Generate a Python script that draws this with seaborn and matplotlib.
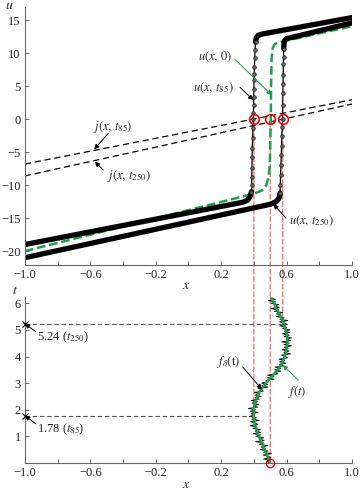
import matplotlib
matplotlib.use('Agg')
import matplotlib.pyplot as plt
from matplotlib.patches import ConnectionPatch
import seaborn as sns

# ---- top panel: solution profiles u(x, t) ----
u85_left_x = [-1.0, 0.33, 0.36, 0.375, 0.385]
u85_left_u = [-19.0, -12.6, -12.3, -11.8, -11.0]
u85_shock_x = [0.385, 0.386, 0.387, 0.388, 0.389, 0.390, 0.392, 0.394, 0.396, 0.397,
               0.398, 0.399, 0.400, 0.401, 0.402, 0.403, 0.405, 0.407, 0.410]
u85_shock_u = [-11.0, -10.0, -8.8, -7.4, -5.8, -4.4, -2.9, -1.4, 0.0, 1.0,
               2.1, 3.4, 4.6, 5.9, 6.9, 7.9, 9.2, 10.5, 11.7]
u85_right_x = [0.410, 0.414, 0.425, 0.45, 1.0]
u85_right_u = [11.7, 12.3, 12.7, 12.9, 15.4]

u250_left_x = [-1.0, 0.50, 0.535, 0.553, 0.560]
u250_left_u = [-21.0, -12.9, -12.5, -12.0, -11.2]
u250_shock_x = [0.560, 0.561, 0.563, 0.565, 0.567, 0.569, 0.571, 0.573, 0.575, 0.576,
                0.577, 0.578, 0.579, 0.580, 0.581, 0.582]
u250_shock_u = [-11.2, -10.0, -8.5, -7.0, -5.5, -4.0, -2.5, -1.2, 0.0, 2.1,
                3.9, 5.4, 6.7, 8.4, 9.4, 10.7]
u250_right_x = [0.582, 0.585, 0.590, 0.60, 0.625, 1.0]
u250_right_u = [10.7, 11.7, 12.0, 12.2, 12.35, 14.6]

u0_x = [-1.0, 0.40, 0.45, 0.475, 0.49, 0.497, 0.50, 0.503, 0.505, 0.508, 0.513, 0.525, 0.545, 1.0]
u0_u = [-20.0, -11.3, -10.8, -10.0, -8.8, -7.0, -4.0, 0.0, 5.0, 9.0, 10.6, 11.3, 11.6, 14.1]

j_x = [-1.0, 1.0]
j85_u = [-6.8, 2.95]
j250_u = [-8.6, 2.3]

shock_pos = [0.40, 0.50, 0.576]
shock_time = [1.78, 0.0, 5.24]

# ---- bottom panel: shock position f(t) and noisy f_delta(t) ----
f_t = [0.0, 0.25, 0.5, 0.75, 1.0, 1.25, 1.5, 1.75, 2.0, 2.25, 2.5, 2.75, 3.0, 3.25,
       3.5, 3.75, 4.0, 4.25, 4.5, 4.75, 5.0, 5.25, 5.5, 5.75, 6.0, 6.2]
f_x = [0.500, 0.482, 0.465, 0.449, 0.430, 0.415, 0.403, 0.398, 0.398, 0.406, 0.420, 0.442,
       0.473, 0.510, 0.545, 0.572, 0.588, 0.599, 0.604, 0.603, 0.595, 0.582, 0.563, 0.541,
       0.523, 0.510]

fd_t = [0.00, 0.05, 0.10, 0.15, 0.20, 0.25, 0.30, 0.35, 0.40, 0.45,
        0.50, 0.55, 0.60, 0.65, 0.70, 0.75, 0.80, 0.85, 0.90, 0.95,
        1.00, 1.05, 1.10, 1.15, 1.20, 1.25, 1.30, 1.35, 1.40, 1.45,
        1.50, 1.55, 1.60, 1.65, 1.70, 1.75, 1.80, 1.85, 1.90, 1.95,
        2.00, 2.05, 2.10, 2.15, 2.20, 2.25, 2.30, 2.35, 2.40, 2.45,
        2.50, 2.55, 2.60, 2.65, 2.70, 2.75, 2.80, 2.85, 2.90, 2.95,
        3.00, 3.05, 3.10, 3.15, 3.20, 3.25, 3.30, 3.35, 3.40, 3.45,
        3.50, 3.55, 3.60, 3.65, 3.70, 3.75, 3.80, 3.85, 3.90, 3.95,
        4.00, 4.05, 4.10, 4.15, 4.20, 4.25, 4.30, 4.35, 4.40, 4.45,
        4.50, 4.55, 4.60, 4.65, 4.70, 4.75, 4.80, 4.85, 4.90, 4.95,
        5.00, 5.05, 5.10, 5.15, 5.20, 5.25, 5.30, 5.35, 5.40, 5.45,
        5.50, 5.55, 5.60, 5.65, 5.70, 5.75, 5.80, 5.85, 5.90, 5.95,
        6.00, 6.05, 6.10, 6.15, 6.20]
fd_x = [0.500, 0.478, 0.502, 0.459, 0.505, 0.487, 0.456, 0.507, 0.459, 0.486,
        0.439, 0.470, 0.444, 0.484, 0.432, 0.461, 0.411, 0.463, 0.431, 0.460,
        0.412, 0.441, 0.396, 0.441, 0.408, 0.440, 0.394, 0.420, 0.377, 0.425,
        0.408, 0.380, 0.432, 0.387, 0.416, 0.372, 0.405, 0.382, 0.425, 0.378,
        0.410, 0.366, 0.423, 0.397, 0.430, 0.388, 0.422, 0.383, 0.433, 0.407,
        0.445, 0.406, 0.438, 0.403, 0.457, 0.447, 0.425, 0.486, 0.448, 0.485,
        0.447, 0.489, 0.473, 0.524, 0.483, 0.522, 0.483, 0.546, 0.525, 0.564,
        0.527, 0.565, 0.529, 0.582, 0.557, 0.597, 0.558, 0.590, 0.553, 0.606,
        0.593, 0.569, 0.625, 0.583, 0.615, 0.573, 0.608, 0.586, 0.630, 0.583,
        0.616, 0.570, 0.626, 0.598, 0.630, 0.585, 0.616, 0.573, 0.619, 0.587,
        0.620, 0.575, 0.600, 0.558, 0.605, 0.587, 0.556, 0.607, 0.559, 0.585,
        0.537, 0.566, 0.538, 0.577, 0.525, 0.553, 0.503, 0.556, 0.524, 0.553,
        0.505, 0.534, 0.488, 0.533, 0.500]

x_ticks = [-1.0, -0.8, -0.6, -0.4, -0.2, 0.0, 0.2, 0.4, 0.6, 0.8, 1.0]
x_ticklabels = ['\u22121.0', '', '\u22120.6', '', '\u22120.2', '', '0.2', '', '0.6', '', '1.0']
u_ticks = [-20, -15, -10, -5, 0, 5, 10, 15]
t_ticks = [1, 2, 3, 4, 5, 6]

sns.set_style('ticks')
plt.rcParams['font.family'] = ['Liberation Serif', 'DejaVu Serif']
plt.rcParams['mathtext.fontset'] = 'stix'
plt.rcParams['font.size'] = 9

green = '#1f9e4a'
red = '#f06b6b'

fig = plt.figure(figsize=(3.6, 4.92), dpi=100)
ax1 = fig.add_axes([0.069, 0.4614, 0.909, 0.5244])
ax2 = fig.add_axes([0.069, 0.059, 0.909, 0.337])
for ax in (ax1, ax2):
    ax.set_facecolor('none')

# top panel curves
sns.lineplot(x=j_x, y=j85_u, ax=ax1, color='k', lw=0.9, ls=(0, (5, 3)))
sns.lineplot(x=j_x, y=j250_u, ax=ax1, color='k', lw=0.9, ls=(0, (5, 3)))
sns.lineplot(x=u0_x, y=u0_u, ax=ax1, sort=False, estimator=None, color=green, lw=1.8,
             ls=(0, (3.5, 1.5)))
for lx, lu, sx, su, rx, ru in [(u85_left_x, u85_left_u, u85_shock_x, u85_shock_u, u85_right_x, u85_right_u),
                               (u250_left_x, u250_left_u, u250_shock_x, u250_shock_u, u250_right_x, u250_right_u)]:
    sns.lineplot(x=lx, y=lu, ax=ax1, sort=False, estimator=None, color='k', lw=3.8,
                 solid_capstyle='round')
    sns.lineplot(x=rx, y=ru, ax=ax1, sort=False, estimator=None, color='k', lw=3.8,
                 solid_capstyle='round')
    sns.lineplot(x=sx, y=su, ax=ax1, sort=False, estimator=None, color='k', lw=0.9,
                 marker='o', ms=2.6, mfc='#666666', mec='#222222', mew=0.5)
sns.lineplot(x=shock_pos, y=[0, 0, 0], ax=ax1, sort=False, estimator=None, ls='',
             marker='o', ms=7, mfc='none', mec='red', mew=1.2, zorder=5)

ax1.set_xlim(-1.0, 1.0)
ax1.set_ylim(-22.1, 17.0)
ax1.set_xticks(x_ticks, x_ticklabels)
ax1.set_yticks(u_ticks, ['\u221220', '\u221215', '\u221210', '\u22125', '0', '5', '10', '15'])

arrow_k = dict(arrowstyle='-|>', color='k', lw=0.7, shrinkA=0, shrinkB=0, mutation_scale=7)
arrow_g = dict(arrowstyle='-|>', color=green, lw=0.7, shrinkA=0, shrinkB=0, mutation_scale=7)

ax1.text(0.162, 9.5, r'$u(x,\,0)$', ha='center', va='center')
ax1.annotate('', xy=(0.509, 3.66), xytext=(0.284, 9.07), arrowprops=arrow_g)
ax1.text(0.150, 4.8, r'$u(x,\,t_{85})$', ha='center', va='center')
ax1.annotate('', xy=(0.396, 2.9), xytext=(0.315, 4.83), arrowprops=arrow_k)
ax1.text(-0.465, -1.2, r'$j(x,\,t_{85})$', ha='center', va='center')
ax1.annotate('', xy=(-0.576, -4.57), xytext=(-0.49, -2.15), arrowprops=arrow_k)
ax1.text(-0.364, -8.6, r'$j(x,\,t_{250})$', ha='center', va='center')
ax1.annotate('', xy=(-0.572, -6.45), xytext=(-0.521, -7.7), arrowprops=arrow_k)
ax1.text(0.755, -15.4, r'$u(x,\,t_{250})$', ha='center', va='center')
ax1.annotate('', xy=(0.519, -12.87), xytext=(0.596, -15.0), arrowprops=arrow_k)

ax1.text(-0.046, 1.006, r'$u$', transform=ax1.transAxes, ha='center', va='center', fontsize=10)
ax1.text(0.494, -0.079, r'$x$', transform=ax1.transAxes, ha='center', va='center', fontsize=10)

# bottom panel curves
sns.lineplot(x=[-1.0, 0.576], y=[5.24, 5.24], ax=ax2, color='#555555', lw=0.8, ls=(0, (4, 2.5)))
sns.lineplot(x=[-1.0, 0.395], y=[1.78, 1.78], ax=ax2, color='#555555', lw=0.8, ls=(0, (4, 2.5)))
sns.lineplot(x=fd_x, y=fd_t, ax=ax2, sort=False, estimator=None, color='k', lw=0.6)
sns.lineplot(x=f_x, y=f_t, ax=ax2, sort=False, estimator=None, color=green, lw=1.8)
sns.lineplot(x=[-1.0, -1.0], y=[5.24, 1.78], ax=ax2, sort=False, estimator=None, ls='',
             marker='x', ms=4, mec='k', mew=0.8, clip_on=False, zorder=5)
sns.lineplot(x=[0.5], y=[0.0], ax=ax2, ls='', marker='o', ms=6, mfc='none', mec='red',
             mew=1.0, clip_on=False, zorder=5)

ax2.set_xlim(-1.0, 1.0)
ax2.set_ylim(0, 6.23)
ax2.set_xticks(x_ticks, x_ticklabels)
ax2.set_yticks(t_ticks)

ax2.text(0.248, 3.79, r'$f_\delta(\mathrm{t})$', ha='center', va='center')
ax2.annotate('', xy=(0.448, 2.77), xytext=(0.331, 3.61), arrowprops=arrow_k)
ax2.text(0.667, 2.66, r'$f(t)$', ha='center', va='center')
ax2.annotate('', xy=(0.576, 3.68), xytext=(0.672, 3.11), arrowprops=arrow_g)
ax2.text(-0.927, 4.73, r'5.24 ($t_{250}$)', ha='left', va='center')
ax2.annotate('', xy=(-1.0, 5.24), xytext=(-0.933, 4.93), arrowprops=arrow_k)
ax2.text(-0.927, 1.28, r'1.78 ($t_{85}$)', ha='left', va='center')
ax2.annotate('', xy=(-1.0, 1.78), xytext=(-0.933, 1.47), arrowprops=arrow_k)

ax2.text(-0.031, 1.042, r'$t$', transform=ax2.transAxes, ha='center', va='center', fontsize=10)
ax2.text(0.494, -0.13, r'$x$', transform=ax2.transAxes, ha='center', va='center', fontsize=10)

# red dashed guides joining the shock positions to their times
for xs, ts in zip(shock_pos, shock_time):
    con = ConnectionPatch(xyA=(xs, 0.0), coordsA=ax1.transData,
                          xyB=(xs, ts), coordsB=ax2.transData,
                          color=red, lw=0.9, ls=(0, (4, 2)), zorder=-1)
    fig.add_artist(con)

for ax in (ax1, ax2):
    sns.despine(ax=ax)
    for side in ('left', 'bottom'):
        ax.spines[side].set_color('#666666')
        ax.spines[side].set_linewidth(0.8)
    ax.tick_params(direction='in', length=3, width=0.7, color='#666666', labelsize=9, pad=3)
    if ax.get_legend() is not None:
        ax.get_legend().remove()

fig.savefig('out.png', dpi=100)
